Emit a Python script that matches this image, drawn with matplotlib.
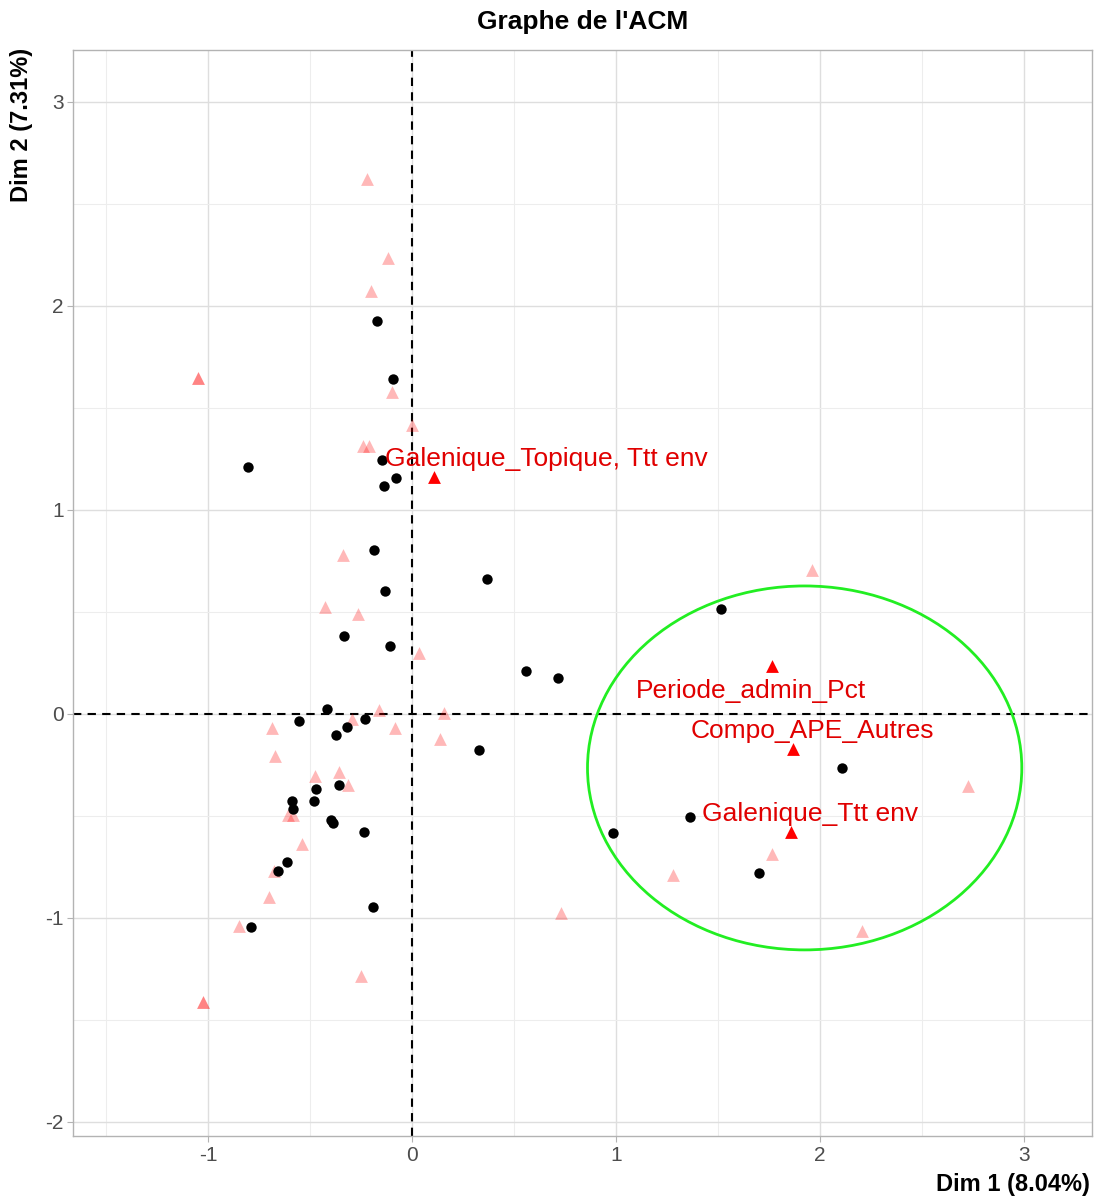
#!/usr/bin/env python3

import matplotlib
matplotlib.use("Agg")
import matplotlib.pyplot as plt
from matplotlib.patches import Ellipse
from matplotlib.ticker import MultipleLocator

plt.rcParams["font.family"] = ["Liberation Sans", "DejaVu Sans"]
plt.rcParams["axes.unicode_minus"] = False

# individus (points noirs)
ind_x = [-0.171, -0.093, -0.807, -0.148, -0.077, -0.140, -0.186, -0.134, -0.333, -0.109,
         -0.419, -0.556, -0.230, -0.318, -0.373, 0.328, -0.357, -0.473, -0.479, -0.587,
         -0.584, -0.400, -0.388, -0.238, -0.616, -0.656, -0.194, -0.789, 0.367, 0.559,
         0.714, 1.517, 2.107, 1.363, 0.985, 1.703]
ind_y = [1.926, 1.642, 1.211, 1.245, 1.157, 1.118, 0.804, 0.603, 0.384, 0.332,
         0.025, -0.033, -0.026, -0.064, -0.104, -0.175, -0.351, -0.368, -0.425, -0.428,
         -0.467, -0.518, -0.534, -0.577, -0.727, -0.768, -0.949, -1.046, 0.662, 0.212,
         0.176, 0.516, -0.263, -0.508, -0.583, -0.781]

# modalites (triangles roses)
var_x = [-0.220, -0.117, -0.202, -1.048, -1.048, -0.101, 0.000, -0.240, -0.212, -0.338,
         -0.429, -0.264, 0.033, -0.165, 0.158, -0.297, -0.685, -0.083, 0.135, -0.674,
         -0.476, -0.359, -0.315, -0.608, -0.584, -0.540, -0.680, -0.701, -0.850, -0.251,
         -1.024, -1.024, 0.729, 1.278, 1.765, 1.963, 2.728, 2.208]
var_y = [2.623, 2.237, 2.072, 1.646, 1.646, 1.578, 1.417, 1.315, 1.315, 0.779,
         0.526, 0.490, 0.299, 0.020, 0.003, -0.025, -0.070, -0.067, -0.123, -0.207,
         -0.305, -0.283, -0.350, -0.495, -0.498, -0.637, -0.771, -0.899, -1.038, -1.284,
         -1.413, -1.413, -0.975, -0.788, -0.686, 0.707, -0.354, -1.062]

# modalites selectionnees
sel_labels = ["Galenique_Topique, Ttt env", "Periode_admin_Pct",
              "Compo_APE_Autres", "Galenique_Ttt env"]
sel_x = [0.109, 1.765, 1.866, 1.858]
sel_y = [1.160, 0.234, -0.172, -0.580]
lab_x = [0.656, 1.663, 1.962, 1.952]
lab_y = [1.250, 0.113, -0.083, -0.490]


def main():
    fig = plt.figure(figsize=(10.97, 11.98), dpi=100)
    ax = fig.add_axes([0.0668, 0.0518, 0.9284, 0.9066])

    ax.set_xlim(-1.662, 3.333)
    ax.set_ylim(-2.069, 3.255)
    ax.xaxis.set_major_locator(MultipleLocator(1))
    ax.yaxis.set_major_locator(MultipleLocator(1))
    ax.xaxis.set_minor_locator(MultipleLocator(0.5))
    ax.yaxis.set_minor_locator(MultipleLocator(0.5))
    ax.grid(True, which="major", color="#DEDEDE", linewidth=1.0)
    ax.grid(True, which="minor", color="#EDEDED", linewidth=0.8)
    ax.set_axisbelow(True)
    ax.tick_params(which="major", length=4, color="#B3B3B3", labelsize=15,
                   labelcolor="#4D4D4D", pad=3)
    ax.tick_params(which="minor", length=0)
    for s in ax.spines.values():
        s.set_color("#B3B3B3")
        s.set_linewidth(1.0)

    ax.axhline(0, color="black", linewidth=1.5, linestyle=(0, (4, 3)), zorder=1)
    ax.axvline(0, color="black", linewidth=1.5, linestyle=(0, (4, 3)), zorder=1)

    ax.scatter(var_x, var_y, marker="^", s=85, color="red", alpha=0.28,
               linewidths=0, zorder=2)
    ax.scatter(ind_x, ind_y, marker="o", s=56, color="black", linewidths=0, zorder=3)
    ax.scatter(sel_x, sel_y, marker="^", s=85, color="red", linewidths=0, zorder=4)

    for lab, x, y in zip(sel_labels, lab_x, lab_y):
        ax.text(x, y, lab, color="#E00000", fontsize=19, ha="center", va="center",
                zorder=5)

    ax.add_patch(Ellipse((1.925, -0.265), 2.13, 1.784, fill=False,
                         edgecolor="#22EE22", linewidth=2.0, zorder=4))

    fig.text(0.531, 1 - 22 / 1198, "Graphe de l'ACM", ha="center", va="center",
             fontsize=19, fontweight="bold")
    fig.text(22 / 1097, 1 - 48 / 1198, "Dim 2 (7.31%)", ha="center", va="top",
             rotation=90, fontsize=17, fontweight="bold")
    fig.text(1090 / 1097, 1 - 1185 / 1198, "Dim 1 (8.04%)", ha="right", va="center",
             fontsize=17, fontweight="bold")

    fig.savefig("out.png", dpi=100)
    plt.close(fig)


if __name__ == "__main__":
    main()
